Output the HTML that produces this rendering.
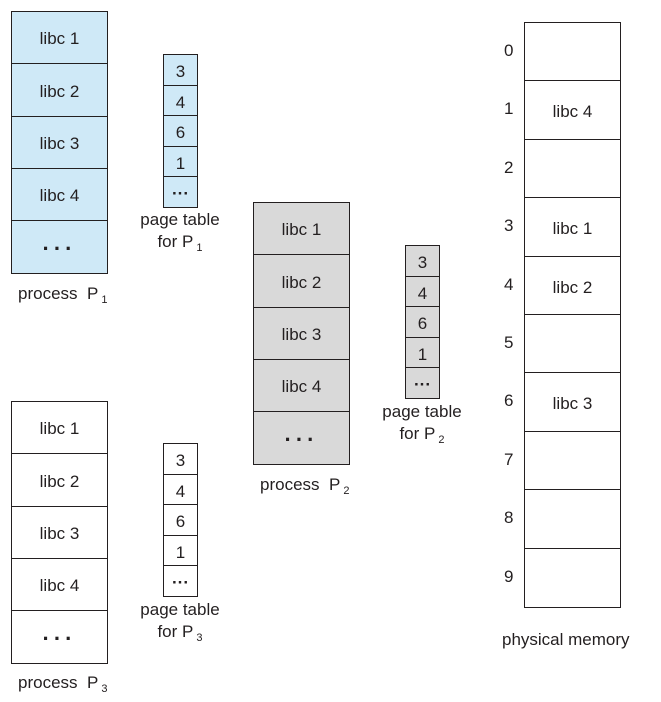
<!DOCTYPE html>
<html><head><style>
body{margin:0;width:661px;height:702px;background:#fff;font-family:"Liberation Sans",sans-serif;color:#231f20;position:relative;overflow:hidden}
.b{position:absolute;border:1px solid #231f20;box-sizing:border-box;display:flex;align-items:center;justify-content:center;font-size:17px;padding-top:3px}
.t{position:absolute;font-size:17px;white-space:nowrap}
.c{position:absolute;font-size:17px;text-align:center;line-height:22px}
sub{font-size:11px;vertical-align:-4px}
</style></head><body>
<div id="root"></div>
<script>
const r=document.getElementById('root');
function box(x,y,w,h,bg,txt){const d=document.createElement('div');d.className='b';d.style.cssText=`left:${x}px;top:${y}px;width:${w}px;height:${h}px;background:${bg}`;d.innerHTML=txt;r.appendChild(d);}
function proc(x,y,bg){const hs=[11,63,116,168,220,273].map(v=>v-11);const labels=['libc 1','libc 2','libc 3','libc 4','<b style="letter-spacing:4px;font-size:22px">···</b>'];for(let i=0;i<5;i++)box(x,y+hs[i],97,hs[i+1]-hs[i]+1,bg,labels[i]);}
function pt(x,y,bg){const l=['3','4','6','1','<b>···</b>'];for(let i=0;i<5;i++)box(x,y+Math.round(i*30.6),35,32,bg,l[i]);}
const blue='#cfe9f7',gray='#d9d9d9';
proc(11,11,blue);pt(163,54,blue);
proc(253,202,gray);pt(405,245,gray);
proc(11,401,'#fff');pt(163,443,'#fff');
const mem=['','libc 4','','libc 1','libc 2','','libc 3','','',''];
for(let i=0;i<10;i++){box(524,22+Math.round(i*58.4),97,60,'#fff',mem[i]);const n=document.createElement('div');n.className='t';n.style.cssText=`left:504px;top:${41+Math.round(i*58.4)}px`;n.textContent=i;r.appendChild(n);}
</script>
<div class="t" style="left:18px;top:284px">process&nbsp; P<sub>&nbsp;1</sub></div>
<div class="c" style="left:130px;top:209px;width:100px">page table<br>for P<sub>&nbsp;1</sub></div>
<div class="t" style="left:260px;top:475px">process&nbsp; P<sub>&nbsp;2</sub></div>
<div class="c" style="left:372px;top:401px;width:100px">page table<br>for P<sub>&nbsp;2</sub></div>
<div class="t" style="left:18px;top:673px">process&nbsp; P<sub>&nbsp;3</sub></div>
<div class="c" style="left:130px;top:599px;width:100px">page table<br>for P<sub>&nbsp;3</sub></div>
<div class="t" style="left:502px;top:630px">physical memory</div>
</body></html>
